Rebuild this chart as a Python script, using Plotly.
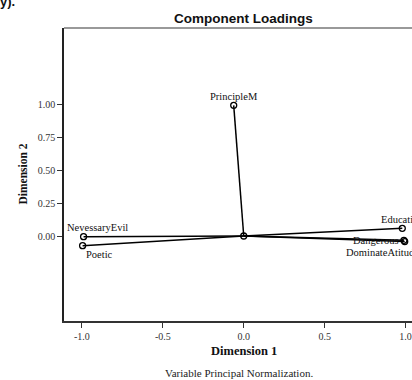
import plotly.graph_objects as go

variables = ["PrincipleM", "NevessaryEvil", "Poetic", "Education", "Dangerous", "DominateAtitude"]
dim1 = [-0.062, -0.99, -0.996, 0.98, 0.99, 0.995]
dim2 = [0.99, -0.005, -0.073, 0.058, -0.033, -0.042]

x_ticks = [-1.0, -0.5, 0.0, 0.5, 1.0]
x_tick_text = ["-1.0", "-0.5", "0.0", "0.5", "1.0"]
y_ticks = [0.0, 0.25, 0.5, 0.75, 1.0]
y_tick_text = ["0.00", "0.25", "0.50", "0.75", "1.00"]

# label offsets (pixels) - styling only
label_dx = [0, 14, 17, 0, -28, -22]
label_dy = [9, 9, -9, 9, 0, -11]

fig = go.Figure()

# vectors from origin
lx, ly = [], []
for a, b in zip(dim1, dim2):
    lx += [0, a, None]
    ly += [0, b, None]
fig.add_trace(go.Scatter(x=lx, y=ly, mode="lines",
                         line=dict(color="black", width=1.5),
                         hoverinfo="skip", showlegend=False, cliponaxis=False))
fig.add_trace(go.Scatter(x=dim1 + [0], y=dim2 + [0], mode="markers",
                         marker=dict(symbol="circle-open", size=6, color="black",
                                     line=dict(width=1.3, color="black")),
                         showlegend=False, cliponaxis=False))

for name, a, b, dx, dy in zip(variables, dim1, dim2, label_dx, label_dy):
    fig.add_annotation(x=a, y=b, text=name, showarrow=False,
                       xshift=dx, yshift=dy, xanchor="center", yanchor="middle",
                       font=dict(family="Liberation Serif", size=10.5, color="#111"))

fig.add_annotation(x=0.0, y=1.0, xref="x", yref="paper", yshift=10,
                   text="<b>Component Loadings</b>", showarrow=False,
                   font=dict(family="Liberation Sans", size=13.5, color="#111"),
                   xanchor="center", yanchor="middle")
fig.add_annotation(x=0.0, y=0, xref="x", yref="paper", yshift=-30,
                   text="<b>Dimension 1</b>", showarrow=False,
                   font=dict(family="Liberation Serif", size=12.5, color="#111"),
                   xanchor="center", yanchor="middle")
fig.add_annotation(x=-0.03, y=0, xref="x", yref="paper", yshift=-52,
                   text="Variable Principal Normalization.", showarrow=False,
                   font=dict(family="Liberation Serif", size=11, color="#222"),
                   xanchor="center", yanchor="middle")
fig.add_annotation(x=0, y=0.5, xref="paper", yref="paper", xshift=-42,
                   text="<b>Dimension 2</b>", showarrow=False, textangle=-90,
                   font=dict(family="Liberation Serif", size=11.5, color="#111"),
                   xanchor="center", yanchor="middle")
fig.add_annotation(x=0, y=1, xref="paper", yref="paper", xshift=-66, yshift=27,
                   text="<b>y).</b>", showarrow=False,
                   font=dict(family="Liberation Sans", size=13, color="#111"),
                   xanchor="left", yanchor="middle")

# top border
fig.add_shape(type="line", xref="paper", yref="paper", x0=0, x1=1, y0=1, y1=1,
              line=dict(color="#777", width=1.5))

fig.update_xaxes(range=[-1.111, 1.04], tickvals=x_ticks, ticktext=x_tick_text,
                 showgrid=False, zeroline=False, showline=True, linecolor="#333",
                 linewidth=1.5, ticks="outside", ticklen=5, tickcolor="#333",
                 tickfont=dict(family="Liberation Serif", size=10, color="#333"))
fig.update_yaxes(range=[-0.644, 1.576], tickvals=y_ticks, ticktext=y_tick_text,
                 showgrid=False, zeroline=False, showline=True, linecolor="#222",
                 linewidth=1.5, ticks="outside", ticklen=5, tickcolor="#333",
                 tickfont=dict(family="Liberation Serif", size=10, color="#333"))

fig.update_layout(width=412, height=380, margin=dict(l=64, r=0, t=28, b=59),
                  plot_bgcolor="white", paper_bgcolor="white")

fig.write_html("out.html", config={"displayModeBar": False},
               post_script="document.body.style.margin='0';document.body.style.overflow='hidden';")
